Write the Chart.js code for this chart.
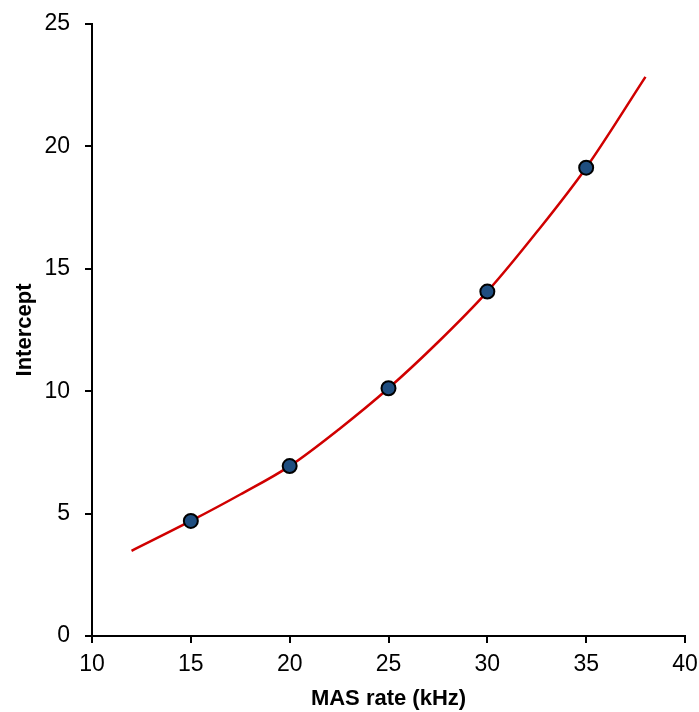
<!DOCTYPE html>
<html>
<head>
<meta charset="utf-8">
<script src="https://cdn.jsdelivr.net/npm/chart.js@4.4.1/dist/chart.umd.min.js"></script>
<style>
  html, body { margin: 0; padding: 0; background: #fff; }
  #wrap { width: 699px; height: 712px; }
</style>
</head>
<body>
<div id="wrap"><canvas id="myChart"></canvas></div>
<script>
// measured points
const masRates = [15, 20, 25, 30, 35];
const intercepts = [4.70, 6.94, 10.12, 14.07, 19.13];

// trend line, sampled along the curve
const fitRates = [12, 15, 17.5, 20, 22.5, 25, 27.5, 30, 32.5, 35, 38];
const fitIntercepts = [3.48, 4.70, 5.78, 6.94, 8.45, 10.12, 12.0, 14.07, 16.5, 19.13, 22.84];

const xTicks = [10, 15, 20, 25, 30, 35, 40];
const yTicks = [0, 5, 10, 15, 20, 25];

const toXY = (xs, ys) => xs.map((x, i) => ({ x, y: ys[i] }));

const tickFont = { family: "'Liberation Sans', Arial, sans-serif", size: 23 };
const titleFont = { family: "'Liberation Sans', Arial, sans-serif", size: 22, weight: 'bold' };

// fixed axis boxes, no extra room for end labels
const fixBox = (size) => (scale) => {
  if (scale.isHorizontal()) scale.height = size;
  else scale.width = size;
  scale.paddingTop = 0;
  scale.paddingBottom = 0;
  scale.paddingLeft = 0;
  scale.paddingRight = 0;
};

const charts = document.getElementById('myChart');
new Chart(charts, {
  type: 'scatter',
  data: {
    datasets: [
      {
        label: 'MAS',
        data: toXY(masRates, intercepts),
        pointRadius: 7,
        pointBackgroundColor: '#1f4e80',
        pointBorderColor: '#000',
        pointBorderWidth: 2,
        order: 0,
      },
      {
        label: 'fit',
        data: toXY(fitRates, fitIntercepts),
        showLine: true,
        borderColor: '#d00000',
        borderWidth: 2.5,
        pointRadius: 0,
        cubicInterpolationMode: 'monotone',
        order: 1,
      },
    ],
  },
  options: {
    responsive: true,
    maintainAspectRatio: false,
    animation: false,
    layout: { padding: { top: 24, right: 14, left: 0, bottom: 0 } },
    plugins: { legend: { display: false }, tooltip: { enabled: false } },
    scales: {
      x: {
        type: 'linear',
        min: 10,
        max: 40,
        afterBuildTicks: (scale) => { scale.ticks = xTicks.map((v) => ({ value: v })); },
        afterFit: fixBox(76),
        border: { display: true, color: '#000', width: 2 },
        grid: { drawOnChartArea: false, drawTicks: true, tickLength: 7, color: '#000', lineWidth: 2 },
        ticks: { color: '#000', font: tickFont, padding: 8, maxRotation: 0 },
        title: { display: true, text: 'MAS rate (kHz)', color: '#000', font: titleFont, padding: { top: 0, bottom: 0 } },
      },
      y: {
        type: 'linear',
        min: 0,
        max: 25,
        afterBuildTicks: (scale) => { scale.ticks = yTicks.map((v) => ({ value: v })); },
        afterFit: fixBox(92),
        border: { display: true, color: '#000', width: 2 },
        grid: { drawOnChartArea: false, drawTicks: true, tickLength: 7, color: '#000', lineWidth: 2 },
        ticks: { color: '#000', font: tickFont, padding: 15 },
        title: { display: true, text: 'Intercept', color: '#000', font: titleFont, padding: { top: 12, bottom: 0 } },
      },
    },
  },
});
</script>
</body>
</html>
